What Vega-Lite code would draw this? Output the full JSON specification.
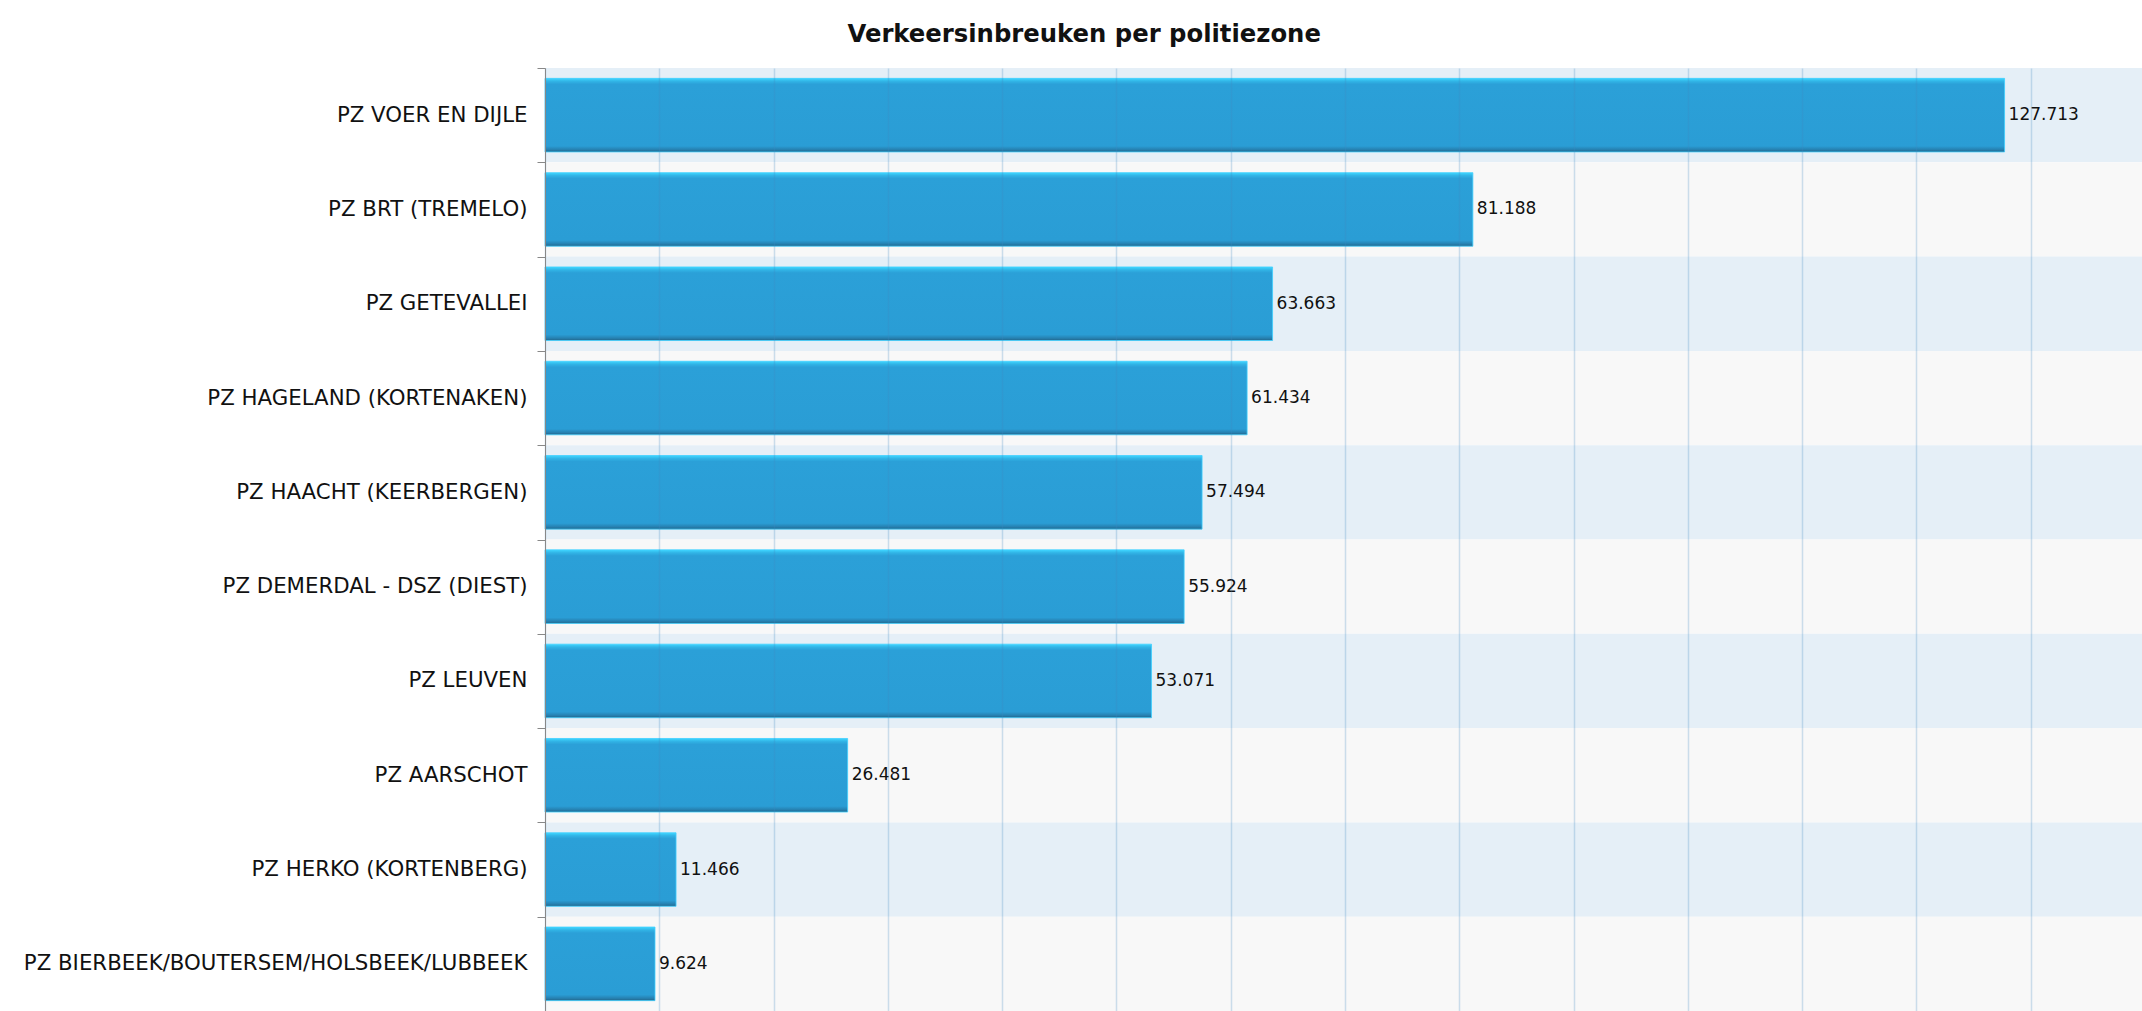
{
  "$schema": "https://vega.github.io/schema/vega-lite/v6.json",
  "autosize": {"type": "none"},
  "padding": {"left": 545, "top": 68, "right": 0, "bottom": 0},
  "width": 1600,
  "height": 943,
  "background": "white",
  "title": {
    "text": "Verkeersinbreuken per politiezone",
    "font": "DejaVu Sans",
    "fontSize": 24.3,
    "fontWeight": "bold",
    "color": "#111111",
    "anchor": "middle",
    "frame": "bounds",
    "offset": 10
  },
  "config": {
    "locale": {
      "number": {"decimal": ",", "thousands": ".", "grouping": [3], "currency": ["€", ""]}
    },
    "view": {"stroke": null}
  },
  "data": {
    "values": [
      {"zone": "PZ VOER EN DIJLE", "count": 127713},
      {"zone": "PZ BRT (TREMELO)", "count": 81188},
      {"zone": "PZ GETEVALLEI", "count": 63663},
      {"zone": "PZ HAGELAND (KORTENAKEN)", "count": 61434},
      {"zone": "PZ HAACHT (KEERBERGEN)", "count": 57494},
      {"zone": "PZ DEMERDAL - DSZ (DIEST)", "count": 55924},
      {"zone": "PZ LEUVEN", "count": 53071},
      {"zone": "PZ AARSCHOT", "count": 26481},
      {"zone": "PZ HERKO (KORTENBERG)", "count": 11466},
      {"zone": "PZ BIERBEEK/BOUTERSEM/HOLSBEEK/LUBBEEK", "count": 9624}
    ]
  },
  "encoding": {
    "y": {
      "field": "zone",
      "type": "nominal",
      "sort": null,
      "scale": {"paddingInner": 0, "paddingOuter": 0},
      "axis": {
        "title": null,
        "labelFont": "DejaVu Sans",
        "labelFontSize": 21.3,
        "labelColor": "#111111",
        "labelPadding": 10,
        "labelLimit": 0,
        "tickBand": "extent",
        "tickSize": 8,
        "tickColor": "#888888",
        "domainColor": "#888888",
        "grid": false
      }
    }
  },
  "layer": [
    {
      "mark": {"type": "rect"},
      "encoding": {
        "x": {"datum": 0, "type": "quantitative"},
        "x2": {"datum": 140000},
        "color": {
          "field": "zone",
          "type": "nominal",
          "legend": null,
          "scale": {
            "domain": ["PZ VOER EN DIJLE", "PZ BRT (TREMELO)", "PZ GETEVALLEI", "PZ HAGELAND (KORTENAKEN)", "PZ HAACHT (KEERBERGEN)", "PZ DEMERDAL - DSZ (DIEST)", "PZ LEUVEN", "PZ AARSCHOT", "PZ HERKO (KORTENBERG)", "PZ BIERBEEK/BOUTERSEM/HOLSBEEK/LUBBEEK"],
            "range": ["#e5eff7", "#f8f8f8", "#e5eff7", "#f8f8f8", "#e5eff7", "#f8f8f8", "#e5eff7", "#f8f8f8", "#e5eff7", "#f8f8f8"]
          }
        }
      }
    },
    {
      "mark": {
        "type": "bar",
        "height": {"band": 0.78},
        "color": {
          "gradient": "linear",
          "x1": 0, "y1": 0, "x2": 0, "y2": 1,
          "stops": [
            {"offset": 0, "color": "#3fd6ff"},
            {"offset": 0.04, "color": "#31b4e6"},
            {"offset": 0.08, "color": "#2ba0d8"},
            {"offset": 0.92, "color": "#2a9dd5"},
            {"offset": 0.97, "color": "#2680b0"},
            {"offset": 1, "color": "#21658a"}
          ]
        },
        "stroke": "#3fd0ff",
        "strokeWidth": 1,
        "strokeOpacity": 0.8
      },
      "encoding": {
        "x": {
          "field": "count",
          "type": "quantitative",
          "scale": {"domain": [0, 140000], "nice": false},
          "axis": {
            "title": null,
            "labels": false,
            "ticks": false,
            "domain": false,
            "grid": true,
            "tickCount": 14,
            "gridColor": "#3f86c0",
            "gridOpacity": 0.25,
            "gridWidth": 1.5,
            "zindex": 1
          }
        }
      }
    },
    {
      "mark": {
        "type": "text",
        "align": "left",
        "baseline": "middle",
        "dx": 4,
        "font": "DejaVu Sans",
        "fontSize": 17,
        "letterSpacing": 1,
        "color": "#111111"
      },
      "encoding": {
        "x": {"field": "count", "type": "quantitative"},
        "text": {"field": "count", "type": "quantitative", "format": ",d"}
      }
    }
  ]
}
